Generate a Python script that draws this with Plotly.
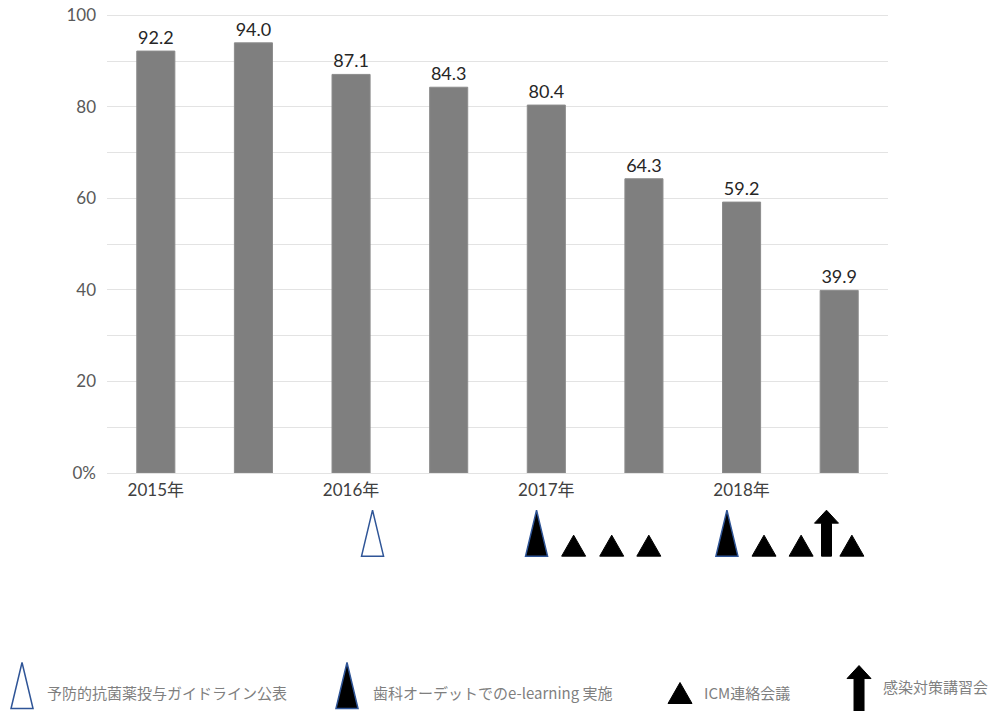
import plotly.graph_objects as go

# ---- data ----
periods = [0, 1, 2, 3, 4, 5, 6, 7]
values = [92.2, 94.0, 87.1, 84.3, 80.4, 64.3, 59.2, 39.9]
year_tick_pos = [0, 2, 4, 6]
year_tick_labels = ["2015年", "2016年", "2017年", "2018年"]
y_tick_vals = [0, 10, 20, 30, 40, 50, 60, 70, 80, 90, 100]
y_tick_text = ["0%", "", "20", "", "40", "", "60", "", "80", "", "100"]

# event timeline (x in period units)
guideline_x = [2.22]
elearning_x = [3.90, 5.85]
icm_x = [4.28, 4.67, 5.05, 6.23, 6.61, 7.13]
seminar_x = [6.87]

legend_labels = ["予防的抗菌薬投与ガイドライン公表", "歯科オーデットでのe-learning 実施", "ICM連絡会議", "感染対策講習会"]

FONT = "Lato, 'Noto Sans CJK JP', sans-serif"
JFONT = "'Noto Sans CJK JP', sans-serif"

fig = go.Figure()
fig.add_trace(go.Bar(
    x=periods, y=values,
    marker=dict(color="#7f7f7f", line=dict(color="#8c8c8c", width=1)),
    text=[f"{v:.1f}" for v in values], textposition="outside",
    textfont=dict(size=18, color="#262626", family=FONT),
    cliponaxis=False, width=0.39,
))

TALL = "M -11,0 L 0,46 L 11,0 Z"
SMALL = "M -12,0 L 0,21 L 12,0 Z"
ARROW = "M -5,0 L -5,33 L -12,33 L 0,46 L 12,33 L 5,33 L 5,0 Z"

shapes = []
def glyph(path, xa, ya, xref, fill, line, lw=1.5):
    shapes.append(dict(type="path", path=path, xref=xref, yref="paper",
                       xsizemode="pixel", ysizemode="pixel",
                       xanchor=xa, yanchor=ya,
                       fillcolor=fill, line=dict(color=line, width=lw)))

row_y = -0.1812
for x in guideline_x:
    glyph(TALL, x, row_y, "x", "white", "#2f5597")
for x in elearning_x:
    glyph(TALL, x, row_y, "x", "black", "#2f5597")
for x in icm_x:
    glyph(SMALL, x, row_y, "x", "black", "black", 1)
for x in seminar_x:
    glyph(ARROW, x, row_y, "x", "black", "black", 1)

# legend glyphs (paper coords)
glyph(TALL, -0.1088, -0.5131, "paper", "white", "#2f5597")
glyph(TALL, 0.3073, -0.5131, "paper", "black", "#2f5597")
glyph(SMALL, 0.7337, -0.5022, "paper", "black", "black", 1)
glyph(ARROW, 0.9629, -0.5197, "paper", "black", "black", 1)

legend_text_x = [-0.0795, 0.3380, 0.7618, 0.9910]
legend_text_y = [-0.4790, -0.4790, -0.4790, -0.4660]
annotations = []
for lx, ly, t in zip(legend_text_x, legend_text_y, legend_labels):
    annotations.append(dict(x=lx, y=ly, xref="paper", yref="paper", text=t,
                            showarrow=False, xanchor="left", yanchor="middle",
                            font=dict(size=15, color="#7f7f7f", family=JFONT)))

fig.update_layout(
    width=990, height=711,
    margin=dict(l=107, r=102, t=14, b=238),
    plot_bgcolor="white", paper_bgcolor="white",
    showlegend=False,
    shapes=shapes, annotations=annotations,
    xaxis=dict(range=[-0.5, 7.5], tickvals=year_tick_pos, ticktext=year_tick_labels,
               showgrid=False, zeroline=False, showline=False, automargin=False,
               tickfont=dict(size=17, color="#404040", family=FONT),
               ticklabelstandoff=5),
    yaxis=dict(range=[0, 100.3], tickvals=y_tick_vals, ticktext=y_tick_text,
               showgrid=True, gridcolor="#e3e3e3", gridwidth=1.3,
               zeroline=True, zerolinecolor="#e3e3e3", zerolinewidth=1.3,
               showline=False, automargin=False,
               tickfont=dict(size=17, color="#595959", family=FONT),
               ticklabelstandoff=10),
)

fig.write_html("out.html")
